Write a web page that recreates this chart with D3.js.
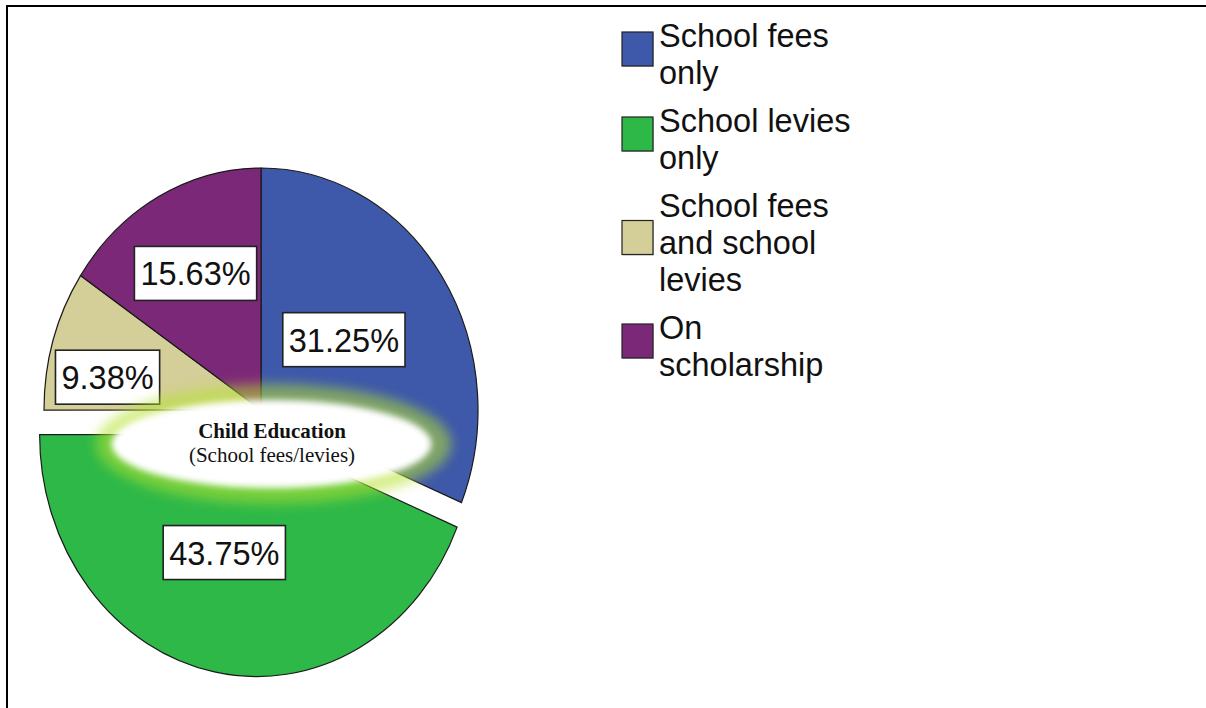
<!DOCTYPE html>
<html>
<head>
<meta charset="utf-8">
<script src="https://cdn.jsdelivr.net/npm/d3@7"></script>
<style>
  html, body { margin: 0; padding: 0; background: #fff; }
  svg { display: block; }
</style>
</head>
<body>
<svg id="chart" width="1206" height="708"></svg>
<script>
// Categories and shares (percent of respondents)
const categories = ["School fees only", "School levies only", "School fees and school levies", "On scholarship"];
const legendLines = [["School fees", "only"], ["School levies", "only"], ["School fees", "and school", "levies"], ["On", "scholarship"]];
const shares = [31.25, 43.75, 9.38, 15.63];
const colors = ["#3e58aa", "#2eb848", "#d4ce98", "#7c2878"];
const explodedCategory = "School levies only";
const centerTitle = "Child Education";
const centerSubtitle = "(School fees/levies)";

// Per-slice label placement: fraction of radius and small angular turn (degrees)
const labelRadius = [0.48, 0.51, 0.72, 0.64];
const labelTurn = [-3.5, 5.75, -6, 0];

const svg = d3.select("#chart");
const W = 1206, H = 708;

svg.append("rect").attr("width", W).attr("height", H).attr("fill", "#fff");

// Frame lines (top and left)
svg.append("line").attr("x1", 6).attr("x2", W).attr("y1", 6).attr("y2", 6)
  .attr("stroke", "#000").attr("stroke-width", 2);
svg.append("line").attr("x1", 7).attr("x2", 7).attr("y1", 5).attr("y2", H)
  .attr("stroke", "#000").attr("stroke-width", 2);

// Pie: elliptical (stretched circle)
const cx = 261, cy = 410, ry = 242, rx = 217;
const sx = rx / ry;
const explode = 25;

const pie = d3.pie().sort(null).value(d => d.value).startAngle(0).endAngle(2 * Math.PI);
const data = categories.map((c, i) => ({ name: c, value: shares[i], color: colors[i], i }));
const arcs = pie(data);
const arc = d3.arc().innerRadius(0).outerRadius(ry);

const pieG = svg.append("g").attr("transform", `translate(${cx},${cy}) scale(${sx},1)`);

function offsetFor(d) {
  if (d.data.name !== explodedCategory) return [0, 0];
  const mid = (d.startAngle + d.endAngle) / 2;
  return [Math.sin(mid) * explode, -Math.cos(mid) * explode];
}

pieG.selectAll("path.slice").data(arcs).join("path")
  .attr("class", "slice")
  .attr("d", arc)
  .attr("transform", d => { const o = offsetFor(d); return `translate(${o[0]},${o[1]})`; })
  .attr("fill", d => d.data.color)
  .attr("stroke", "#1a1a1a")
  .attr("stroke-width", 1.2)
  .attr("vector-effect", "non-scaling-stroke");

// Defs for the glowing centre ellipse
const defs = svg.append("defs");
const blurHalo = defs.append("filter").attr("id", "blurHalo")
  .attr("x", "-30%").attr("y", "-60%").attr("width", "160%").attr("height", "220%");
blurHalo.append("feGaussianBlur").attr("stdDeviation", 6);
const blurCore = defs.append("filter").attr("id", "blurCore")
  .attr("x", "-30%").attr("y", "-60%").attr("width", "160%").attr("height", "220%");
blurCore.append("feGaussianBlur").attr("stdDeviation", 3);

// Value labels in boxes
const labelG = svg.append("g");
arcs.forEach((d, k) => {
  const o = offsetFor(d);
  const mid = (d.startAngle + d.endAngle) / 2 + labelTurn[k] * Math.PI / 180;
  const r = labelRadius[k] * ry;
  const x = cx + (o[0] + Math.sin(mid) * r) * sx;
  const y = cy + o[1] - Math.cos(mid) * r;
  const g = labelG.append("g").attr("transform", `translate(${x},${y})`);
  const t = g.append("text")
    .attr("text-anchor", "middle")
    .attr("dominant-baseline", "central")
    .attr("y", 1)
    .attr("font-family", "Liberation Sans, Arial, sans-serif")
    .attr("font-size", 32.5)
    .attr("fill", "#111")
    .text(d.data.value.toFixed(2) + "%");
  const w = t.node().getComputedTextLength() + 12;
  const h = 54;
  g.insert("rect", "text")
    .attr("x", -w / 2).attr("y", -h / 2).attr("width", w).attr("height", h)
    .attr("fill", "#fff").attr("stroke", "#222").attr("stroke-width", 1.6);
});

// Centre caption with soft yellow-green glow
const capX = 273.5, capY = 444;
const capG = svg.append("g");
capG.append("ellipse").attr("cx", capX).attr("cy", capY).attr("rx", 178).attr("ry", 60)
  .attr("fill", "rgba(180,226,45,0.55)").attr("filter", "url(#blurHalo)");
capG.append("ellipse").attr("cx", capX - 2).attr("cy", capY).attr("rx", 160).attr("ry", 44)
  .attr("fill", "#fff").attr("filter", "url(#blurCore)");
capG.append("text").attr("x", 272).attr("y", 438).attr("text-anchor", "middle")
  .attr("font-family", "Liberation Serif, Times New Roman, serif")
  .attr("font-size", 21).attr("font-weight", "bold").attr("fill", "#111")
  .text(centerTitle);
capG.append("text").attr("x", 272).attr("y", 462).attr("text-anchor", "middle")
  .attr("font-family", "Liberation Serif, Times New Roman, serif")
  .attr("font-size", 21).attr("fill", "#111")
  .text(centerSubtitle);

// Legend
const legend = svg.append("g").attr("transform", "translate(622,0)");
const lineH = 37, itemGap = 11;
let blockTop = 19;
legendLines.forEach((lines, i) => {
  const blockH = lines.length * lineH;
  const item = legend.append("g");
  const swatchY = blockTop + blockH / 2 - 7 - 17;
  item.append("rect").attr("x", 1).attr("y", swatchY + 1).attr("width", 31).attr("height", 34)
    .attr("fill", "#999").attr("opacity", 0.5);
  item.append("rect").attr("x", 0).attr("y", swatchY).attr("width", 31).attr("height", 34)
    .attr("fill", colors[i]).attr("stroke", "#222").attr("stroke-width", 1.2);
  const t = item.append("text")
    .attr("font-family", "Liberation Sans, Arial, sans-serif")
    .attr("font-size", 32.5).attr("fill", "#111");
  lines.forEach((ln, j) => {
    t.append("tspan").attr("x", 37).attr("y", blockTop + 28 + j * lineH).text(ln);
  });
  blockTop += blockH + itemGap;
});
</script>
</body>
</html>
